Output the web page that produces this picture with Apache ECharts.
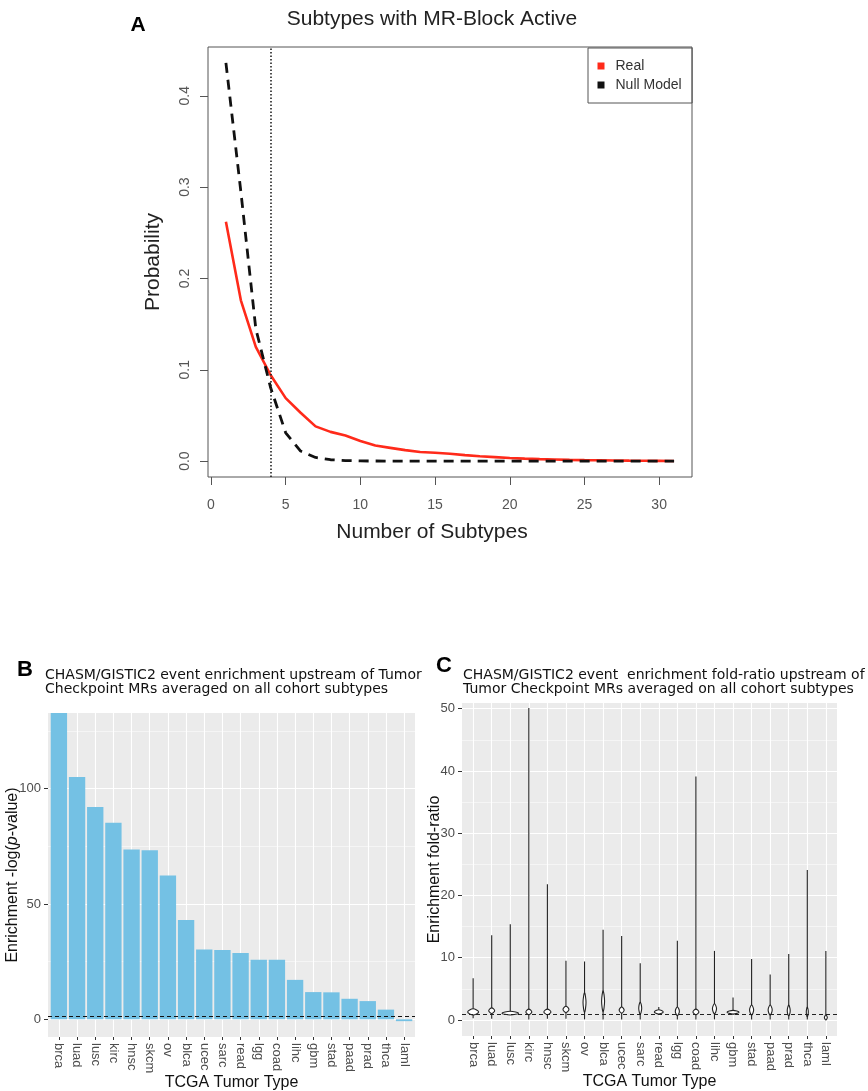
<!DOCTYPE html>
<html>
<head>
<meta charset="utf-8">
<script src="https://cdn.jsdelivr.net/npm/echarts@6/dist/echarts.min.js"></script>
<style>
  html, body { margin: 0; padding: 0; background: #fff; }
  #chart { width: 868px; height: 1091px; }
</style>
</head>
<body>
<div id="chart"></div>
<script>
// panel A: probability of number of subtypes with MR-block active
var subtypeCounts = [1, 2, 3, 4, 5, 6, 7, 8, 9, 10, 11, 12, 13, 14, 15, 16, 17, 18, 19, 20,
    21, 22, 23, 24, 25, 26, 27, 28, 29, 30, 31];
var realProb = [0.262, 0.176, 0.125, 0.094, 0.069, 0.053, 0.038, 0.032, 0.028, 0.022, 0.017,
    0.0145, 0.012, 0.010, 0.0092, 0.008, 0.0066, 0.0054, 0.0044, 0.0034, 0.0027, 0.0022,
    0.0018, 0.0014, 0.0011, 0.0009, 0.0007, 0.0005, 0.0004, 0.0003, 0.0002];
var nullProb = [0.436, 0.295, 0.145, 0.08, 0.031, 0.011, 0.004, 0.0015, 0.0006, 0.0002, 0.0001,
    0, 0, 0, 0, 0, 0, 0, 0, 0, 0, 0, 0, 0, 0, 0, 0, 0, 0, 0, 0];
var subtypeCutoff = 4;
var subtypeTicks = [0, 5, 10, 15, 20, 25, 30];
var probTicks = [0, 0.1, 0.2, 0.3, 0.4];

// panel B: enrichment -log(p) per tumor type
var tumorTypes = ['brca', 'luad', 'lusc', 'kirc', 'hnsc', 'skcm', 'ov', 'blca', 'ucec', 'sarc',
    'read', 'lgg', 'coad', 'lihc', 'gbm', 'stad', 'paad', 'prad', 'thca', 'laml'];
var enrichLogP = [133, 105, 92, 85.2, 73.6, 73.3, 62.4, 43.1, 30.3, 30, 28.8, 25.8, 25.8, 17.1,
    11.8, 11.7, 8.9, 7.9, 4.2, -0.8];
var pThreshold = 1.3;
var enrichTicks = [0, 50, 100];
var enrichMinorTicks = [25, 75, 125];

// panel C: enrichment fold-ratio violins
var foldMin = [0.3, 0.2, 0.8, 0.1, 0.2, 0.2, 0.1, 0.1, 0.1, 0.1, 0.8, 0.1, 0.1, 0.1, 0.9, 0.1, 0.1, 0.1, 0.1, 0.05];
var foldMax = [6.7, 13.6, 15.4, 50.1, 21.8, 9.5, 9.4, 14.5, 13.5, 9.1, 2.1, 12.75, 39.1, 11.1, 3.6, 9.8, 7.3, 10.6, 24.1, 11.1];
var foldMid = [1.3, 1.5, 1.1, 1.3, 1.3, 1.7, 2.8, 3.0, 1.6, 1.9, 1.3, 1.4, 1.3, 1.8, 1.25, 1.6, 1.6, 1.5, 1.3, 0.4];
var foldSpread = [0.5, 0.45, 0.3, 0.45, 0.45, 0.5, 1.6, 1.7, 0.5, 1.0, 0.35, 0.7, 0.45, 0.8, 0.3, 0.8, 0.8, 0.9, 0.8, 0.4];
var foldDensity = [0.59, 0.32, 0.9, 0.32, 0.38, 0.32, 0.16, 0.16, 0.27, 0.16, 0.48, 0.22, 0.32, 0.22, 0.65, 0.22, 0.22, 0.16, 0.11, 0.16];
var foldBaseline = 1;
var foldTicks = [0, 10, 20, 30, 40, 50];
var foldMinorTicks = [5, 15, 25, 35, 45];

var tumorPos = tumorTypes.map(function (t, i) { return i + 1; });

var rFont = 'Liberation Sans';
var ggFont = 'Liberation Sans';

var gridB = {left: 48, top: 713, width: 367, height: 324};
var gridC = {left: 462, top: 703, width: 375, height: 333};

var chart = echarts.init(document.getElementById('chart'), null, {renderer: 'canvas'});

function ggXAxis(gridIndex) {
    return {
        type: 'value', gridIndex: gridIndex, min: 0.4, max: 20.6,
        axisLine: {show: false, onZero: false},
        axisTick: {show: true, customValues: tumorPos, length: 3, lineStyle: {color: '#333', width: 1}},
        axisLabel: {
            customValues: tumorPos, rotate: -90, margin: 6, fontSize: 13, color: '#4D4D4D',
            fontFamily: ggFont,
            formatter: function (v) { return tumorTypes[Math.round(v) - 1]; }
        },
        splitLine: {show: true, lineStyle: {color: '#fff', width: 1.1}},
        name: 'TCGA Tumor Type', nameLocation: 'middle', nameGap: 38, nameMoveOverlap: false,
        nameTextStyle: {fontSize: 16, color: '#111', fontFamily: ggFont}
    };
}

function ggYAxis(gridIndex, min, max, ticks, name, nameGap) {
    return {
        type: 'value', gridIndex: gridIndex, min: min, max: max,
        axisLine: {show: false, onZero: false},
        axisTick: {show: true, customValues: ticks, length: 4, lineStyle: {color: '#333', width: 1}},
        axisLabel: {customValues: ticks, margin: 7, fontSize: 13, color: '#4D4D4D', fontFamily: ggFont},
        splitLine: {show: true, lineStyle: {color: '#fff', width: 1.1}},
        name: name, nameLocation: 'middle', nameGap: nameGap, nameMoveOverlap: false,
        nameTextStyle: {fontSize: 16, color: '#111', fontFamily: ggFont, rich: {
            n: {fontSize: 16, color: '#111', fontFamily: ggFont},
            i: {fontSize: 16, color: '#111', fontFamily: ggFont, fontStyle: 'italic'}
        }}
    };
}

function minorYAxis(gridIndex, min, max, ticks) {
    return {
        type: 'value', gridIndex: gridIndex, min: min, max: max,
        axisLine: {show: false, onZero: false},
        axisTick: {show: false, customValues: ticks},
        axisLabel: {show: false, customValues: ticks},
        splitLine: {show: true, lineStyle: {color: '#fff', width: 0.5}}
    };
}

function renderViolin(params, api) {
    var x = api.value(0);
    var lo = api.coord([x, api.value(1)]);
    var hi = api.coord([x, api.value(2)]);
    var mid = api.coord([x, api.value(3)]);
    var top = api.coord([x, api.value(3) + api.value(4)]);
    var bot = api.coord([x, api.value(3) - api.value(4)]);
    var band = api.size([1, 0])[0];
    var hw = band * api.value(5) / 2;
    return {
        type: 'group',
        children: [{
            type: 'line',
            shape: {x1: lo[0], y1: lo[1], x2: hi[0], y2: hi[1]},
            style: {stroke: '#222', lineWidth: 1.1}
        }, {
            type: 'polygon',
            shape: {points: [[top[0], top[1]], [mid[0] + hw, mid[1]], [bot[0], bot[1]], [mid[0] - hw, mid[1]]], smooth: 0.35},
            style: {fill: '#fff', stroke: '#222', lineWidth: 1.1}
        }]
    };
}

var option = {
    animation: false,
    backgroundColor: '#fff',
    graphic: [
        {type: 'text', x: 138, y: 25, style: {text: 'A', font: 'bold 21px "Liberation Sans"', fill: '#000', textAlign: 'center', textVerticalAlign: 'middle', align: 'center', verticalAlign: 'middle'}},
        {type: 'text', x: 432, y: 19, style: {text: 'Subtypes with MR-Block Active', font: '21px "Liberation Sans"', fill: '#222', textAlign: 'center', textVerticalAlign: 'middle', align: 'center', verticalAlign: 'middle'}},
        {type: 'text', x: 432, y: 532, style: {text: 'Number of Subtypes', font: '21px "Liberation Sans"', fill: '#222', textAlign: 'center', textVerticalAlign: 'middle', align: 'center', verticalAlign: 'middle'}},
        {type: 'text', x: 25, y: 670, style: {text: 'B', font: 'bold 22px "Liberation Sans"', fill: '#000', textAlign: 'center', textVerticalAlign: 'middle', align: 'center', verticalAlign: 'middle'}},
        {type: 'text', x: 45, y: 668, style: {text: 'CHASM/GISTIC2 event enrichment upstream of Tumor\nCheckpoint MRs averaged on all cohort subtypes', font: '14px "DejaVu Sans"', lineHeight: 14.5, fill: '#111', textAlign: 'left', textVerticalAlign: 'top', align: 'left', verticalAlign: 'top'}},
        {type: 'text', x: 444, y: 666, style: {text: 'C', font: 'bold 22px "Liberation Sans"', fill: '#000', textAlign: 'center', textVerticalAlign: 'middle', align: 'center', verticalAlign: 'middle'}},
        {type: 'text', x: 463, y: 668, style: {text: 'CHASM/GISTIC2 event  enrichment fold-ratio upstream of\nTumor Checkpoint MRs averaged on all cohort subtypes', font: '14px "DejaVu Sans"', lineHeight: 14.5, fill: '#111', textAlign: 'left', textVerticalAlign: 'top', align: 'left', verticalAlign: 'top'}}
    ],
    legend: {
        data: [
            {name: 'Real', itemStyle: {color: '#FF2A1A', borderWidth: 0}},
            {name: 'Null Model', itemStyle: {color: '#111', borderWidth: 0}}
        ],
        orient: 'vertical', left: 588, top: 48,
        padding: [10.5, 10.5, 10.5, 9.5], itemGap: 4,
        itemWidth: 7, itemHeight: 7, icon: 'rect',
        borderColor: '#555', borderWidth: 1,
        textStyle: {fontSize: 14, color: '#333', fontFamily: rFont, padding: [0, 0, 0, 6], lineHeight: 15}
    },
    grid: [
        {left: 208, top: 47, width: 484, height: 430, show: true, borderColor: '#555', borderWidth: 1, backgroundColor: '#fff', outerBoundsMode: 'none'},
        {left: gridB.left, top: gridB.top, width: gridB.width, height: gridB.height, show: true, borderWidth: 0, backgroundColor: '#EBEBEB', outerBoundsMode: 'none'},
        {left: gridC.left, top: gridC.top, width: gridC.width, height: gridC.height, show: true, borderWidth: 0, backgroundColor: '#EBEBEB', outerBoundsMode: 'none'}
    ],
    xAxis: [{
        type: 'value', gridIndex: 0, min: -0.2, max: 32.2,
        axisLine: {show: false, onZero: false},
        axisTick: {show: true, customValues: subtypeTicks, length: 8, lineStyle: {color: '#555'}},
        axisLabel: {customValues: subtypeTicks, margin: 21, fontSize: 14, color: '#555', fontFamily: rFont},
        splitLine: {show: false}
    }, ggXAxis(1), ggXAxis(2)],
    yAxis: [{
        type: 'value', gridIndex: 0, min: -0.0174, max: 0.4534,
        axisLine: {show: false, onZero: false},
        axisTick: {show: true, customValues: probTicks, length: 8, lineStyle: {color: '#555'}},
        axisLabel: {customValues: probTicks, rotate: 90, margin: 16, fontSize: 14, color: '#555', fontFamily: rFont,
            formatter: function (v) { return v.toFixed(1); }},
        splitLine: {show: false},
        name: 'Probability', nameLocation: 'middle', nameGap: 44, nameMoveOverlap: false,
        nameTextStyle: {fontSize: 21, color: '#222', fontFamily: rFont}
    },
        ggYAxis(1, -7.67, 132.8, enrichTicks, '{n|Enrichment -log(}{i|p}{n|-value)}', 27),
        minorYAxis(1, -7.67, 132.8, enrichMinorTicks),
        ggYAxis(2, -2.57, 50.92, foldTicks, 'Enrichment fold-ratio', 19),
        minorYAxis(2, -2.57, 50.92, foldMinorTicks)
    ],
    series: [{
        name: 'Real', type: 'line', xAxisIndex: 0, yAxisIndex: 0,
        data: subtypeCounts.map(function (n, i) { return [n, realProb[i]]; }),
        showSymbol: false, symbol: 'none',
        lineStyle: {color: '#FF2A1A', width: 2.6},
        itemStyle: {color: '#FF2A1A'},
        z: 3
    }, {
        name: 'Null Model', type: 'line', xAxisIndex: 0, yAxisIndex: 0,
        data: subtypeCounts.map(function (n, i) { return [n, nullProb[i]]; }),
        showSymbol: false, symbol: 'none',
        lineStyle: {color: '#111', width: 2.8, type: [10, 7]},
        itemStyle: {color: '#111'},
        z: 4,
        markLine: {
            silent: true, symbol: 'none', label: {show: false},
            lineStyle: {color: '#222', width: 1.6, type: [1.5, 2]},
            data: [{xAxis: subtypeCutoff}]
        }
    }, {
        name: 'enrichment', type: 'bar', xAxisIndex: 1, yAxisIndex: 1,
        data: tumorPos.map(function (p, i) { return [p, enrichLogP[i]]; }),
        barWidth: gridB.width / 20.2 * 0.9,
        itemStyle: {color: '#74C1E4'},
        z: 3,
        markLine: {
            silent: true, symbol: 'none', label: {show: false},
            lineStyle: {color: '#111', width: 1, type: [4, 3]},
            data: [{yAxis: pThreshold}]
        }
    }, {
        name: 'fold-ratio', type: 'custom', xAxisIndex: 2, yAxisIndex: 3,
        data: tumorPos.map(function (p, i) {
            return [p, foldMin[i], foldMax[i], foldMid[i], foldSpread[i], foldDensity[i]];
        }),
        encode: {x: 0, y: [1, 2]},
        renderItem: renderViolin,
        z: 3,
        markLine: {
            silent: true, symbol: 'none', label: {show: false},
            lineStyle: {color: '#222', width: 1, type: [4, 3]},
            data: [{yAxis: foldBaseline}]
        }
    }]
};

chart.setOption(option);
</script>
</body>
</html>
